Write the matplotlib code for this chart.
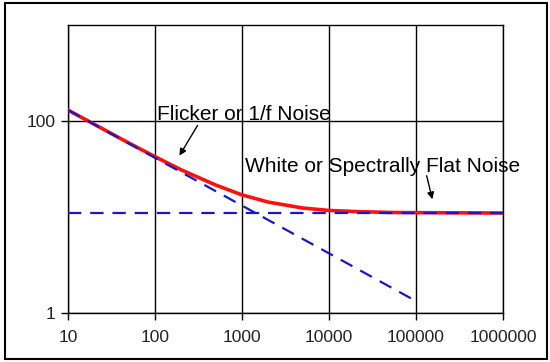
import matplotlib.pyplot as plt
from matplotlib.patches import Rectangle

plt.rcParams["font.family"] = ["Liberation Sans", "DejaVu Sans"]

# frequencies (Hz) and noise levels
freq = [10, 20, 50, 100, 200, 500, 1000, 2000, 5000, 10000, 20000, 50000, 100000, 1000000]
total_noise = [130, 92.5, 59, 42.5, 31, 21.5, 17, 14.3, 12.4, 11.7, 11.4, 11.15, 11.1, 11.0]

flicker_freq = [10, 100000]
flicker_noise = [130, 1.33]

white_freq = [10, 1000000]
white_noise = [11, 11]

x_ticks = [10, 100, 1000, 10000, 100000, 1000000]
y_ticks = [1, 100]

fig = plt.figure(figsize=(5.5, 3.62), dpi=100)
ax = fig.add_axes([68 / 550, 1 - 313 / 362, 435 / 550, 288 / 362])

ax.plot(freq, total_noise, color="#ff1010", linewidth=2.6, zorder=3)
ax.plot(flicker_freq, flicker_noise, color="#1818c8", linewidth=1.6, dashes=(6, 4), zorder=4)
ax.plot(white_freq, white_noise, color="#1818c8", linewidth=1.6, dashes=(6, 4), zorder=4)

ax.set_xscale("log")
ax.set_yscale("log")
ax.set_xlim(10, 1000000)
ax.set_ylim(1, 1000)
ax.set_xticks(x_ticks)
ax.set_xticklabels([str(t) for t in x_ticks])
ax.set_yticks(y_ticks)
ax.set_yticklabels([str(t) for t in y_ticks])
ax.minorticks_off()
ax.tick_params(axis="both", labelsize=12.5, colors="black", labelcolor="#222222",
               length=5, width=1, direction="out")
ax.tick_params(axis="x", pad=7)
ax.tick_params(axis="y", pad=4)
ax.grid(True, color="black", linewidth=1)
ax.set_axisbelow(True)
for side in ax.spines.values():
    side.set_linewidth(1)
    side.set_color("black")

# labels and arrows placed in figure pixels
fig.text(157 / 550, 1 - 114 / 362, "Flicker or 1/f Noise", fontsize=15, va="center", ha="left")
fig.text(245 / 550, 1 - 166 / 362, "White or Spectrally Flat Noise", fontsize=15, va="center", ha="left")
ax.annotate("", xy=(178, 362 - 158), xytext=(199, 362 - 123),
            xycoords="figure pixels", textcoords="figure pixels",
            arrowprops=dict(arrowstyle="-|>", color="black", lw=1, mutation_scale=10), zorder=5)
ax.annotate("", xy=(433, 362 - 202), xytext=(426, 362 - 173),
            xycoords="figure pixels", textcoords="figure pixels",
            arrowprops=dict(arrowstyle="-|>", color="black", lw=1, mutation_scale=10), zorder=5)

fig.patches.append(Rectangle((4.5 / 550, 3 / 362), 542.5 / 550, 356 / 362, transform=fig.transFigure,
                             fill=False, edgecolor="black", linewidth=1.5))

fig.savefig("out.png", dpi=100)
plt.close(fig)
